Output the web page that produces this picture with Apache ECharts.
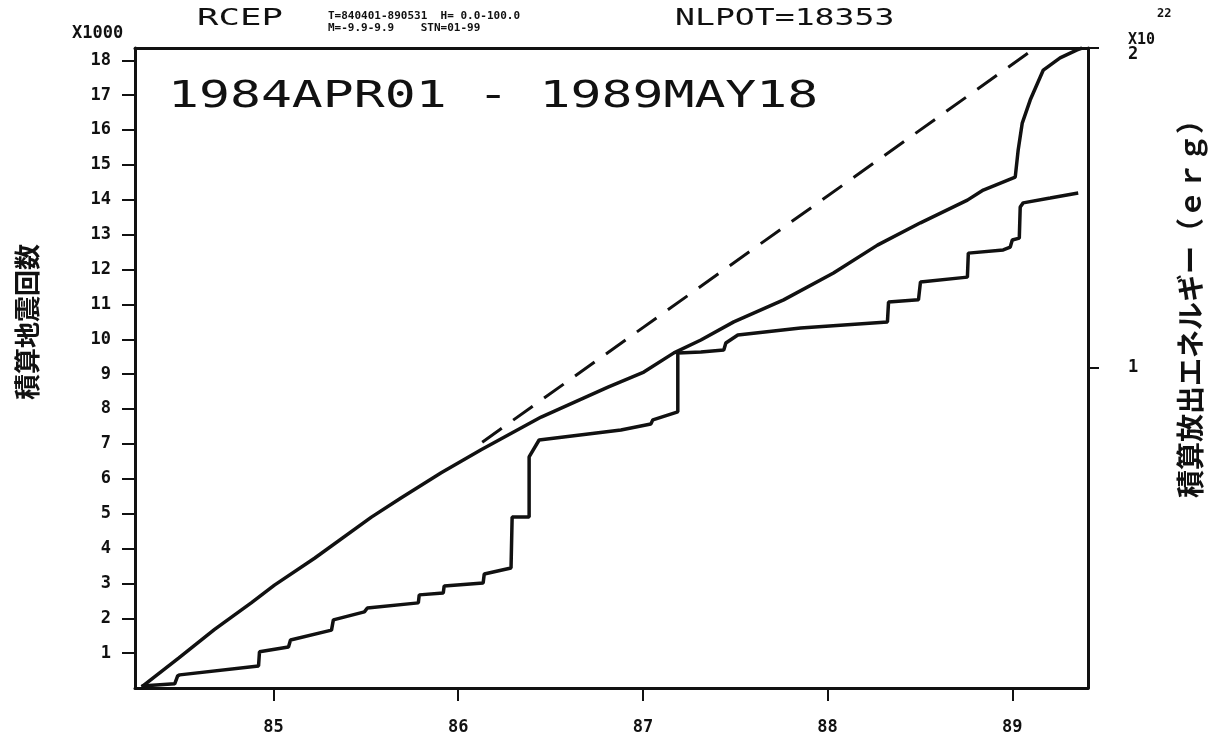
<!DOCTYPE html>
<html>
<head>
<meta charset="utf-8">
<title>RCEP 1984APR01 - 1989MAY18</title>
<script src="https://cdn.jsdelivr.net/npm/echarts/dist/echarts.min.js"></script>
<style>
  html, body { margin: 0; padding: 0; background: #fff; }
  #chart { width: 1214px; height: 749px; }
</style>
</head>
<body>
<div id="chart"></div>
<script>
// x: decimal year (84.25 = 1984 Apr 1)
var yearTicks = [85, 86, 87, 88, 89];
var countTicks = [1, 2, 3, 4, 5, 6, 7, 8, 9, 10, 11, 12, 13, 14, 15, 16, 17, 18];
var energyTicks = [1, 2];

// cumulative number of earthquakes (x1000)
var countYears = [84.286, 84.486, 84.681, 84.881, 85.005, 85.222, 85.53, 85.69, 85.908, 86.124, 86.449,
  86.811, 87.005, 87.168, 87.314, 87.492, 87.762, 88.032, 88.27, 88.503, 88.757, 88.843, 89.016,
  89.032, 89.054, 89.097, 89.168, 89.259, 89.351, 89.378];
var countValues = [0.03, 0.86, 1.68, 2.45, 2.95, 3.72, 4.9, 5.45, 6.17, 6.83, 7.77,
  8.63, 9.06, 9.61, 9.98, 10.5, 11.13, 11.9, 12.7, 13.34, 13.99, 14.28, 14.65,
  15.43, 16.2, 16.86, 17.72, 18.07, 18.3, 18.353];

// cumulative released energy (x10^22 erg)
var energyYears = [84.286, 84.465, 84.481, 84.492, 84.919, 84.924, 85.081, 85.092, 85.314, 85.324,
  85.492, 85.508, 85.784, 85.789, 85.919, 85.924, 86.135, 86.141, 86.286, 86.292, 86.384, 86.384,
  86.438, 86.881, 87.043, 87.054, 87.189, 87.189, 87.314, 87.438, 87.449, 87.514, 87.854, 88.324,
  88.33, 88.492, 88.503, 88.757, 88.762, 88.951, 88.989, 89.0, 89.038, 89.043, 89.059, 89.205, 89.357];
var energyValues = [0.006, 0.013, 0.038, 0.041, 0.069, 0.113, 0.128, 0.15, 0.181, 0.213,
  0.238, 0.25, 0.266, 0.291, 0.297, 0.319, 0.328, 0.356, 0.375, 0.534, 0.534, 0.722,
  0.775, 0.806, 0.825, 0.838, 0.863, 1.047, 1.05, 1.056, 1.078, 1.103, 1.125, 1.144,
  1.206, 1.213, 1.269, 1.284, 1.359, 1.369, 1.378, 1.4, 1.406, 1.503, 1.516, 1.531, 1.547];

// dashed trend line (x1000)
var trendYears = [86.13, 89.124];
var trendValues = [7.05, 18.353];

var NLPOT = 18353;

function pairs(xs, ys) {
  return xs.map(function (x, i) { return [x, ys[i]]; });
}

var ink = '#111';
var mono = '"DejaVu Sans Mono", monospace';
var cjk = '"Noto Sans CJK JP", sans-serif';

var chart = echarts.init(document.getElementById('chart'));

var option = {
  animation: false,
  backgroundColor: '#fff',
  grid: { left: 135, right: 126, top: 48, bottom: 61 },
  xAxis: [
    {
      type: 'value',
      min: 84.25,
      max: 89.41,
      axisLine: { onZero: false, lineStyle: { color: ink, width: 3 } },
      axisTick: { customValues: yearTicks, length: 13, lineStyle: { color: ink, width: 2 } },
      axisLabel: {
        customValues: yearTicks,
        margin: 31,
        color: ink,
        fontFamily: mono,
        fontWeight: 'bold',
        fontSize: 17,
        formatter: function (v) { return String(v); }
      },
      splitLine: { show: false }
    },
    {
      type: 'value',
      position: 'top',
      min: 84.25,
      max: 89.41,
      axisLine: { onZero: false, lineStyle: { color: ink, width: 3 } },
      axisTick: { show: false },
      axisLabel: { show: false },
      splitLine: { show: false }
    }
  ],
  yAxis: [
    {
      type: 'value',
      min: 0,
      max: NLPOT / 1000,
      axisLine: { show: true, onZero: false, lineStyle: { color: ink, width: 3 } },
      axisTick: { customValues: countTicks, length: 13, lineStyle: { color: ink, width: 2 } },
      axisLabel: {
        customValues: countTicks,
        margin: 24,
        color: ink,
        fontFamily: mono,
        fontWeight: 'bold',
        fontSize: 17,
        formatter: function (v) { return String(v); }
      },
      splitLine: { show: false }
    },
    {
      type: 'value',
      position: 'right',
      min: 0,
      max: 2,
      axisLine: { show: true, onZero: false, lineStyle: { color: ink, width: 3 } },
      axisTick: { customValues: energyTicks, length: 11, lineStyle: { color: ink, width: 2 } },
      axisLabel: {
        customValues: energyTicks,
        margin: 40,
        color: ink,
        fontFamily: mono,
        fontWeight: 'bold',
        fontSize: 17,
        formatter: function (v) { return v === 2 ? '{t|2}' : String(v); },
        rich: { t: { padding: [14, 0, 0, 0], fontFamily: mono, fontWeight: 'bold', fontSize: 17, color: ink } }
      },
      splitLine: { show: false }
    }
  ],
  series: [
    {
      name: '積算地震回数',
      type: 'line',
      xAxisIndex: 0,
      yAxisIndex: 0,
      data: pairs(countYears, countValues),
      showSymbol: false,
      lineStyle: { color: ink, width: 3.5 }
    },
    {
      name: '積算放出エネルギー',
      type: 'line',
      xAxisIndex: 0,
      yAxisIndex: 1,
      data: pairs(energyYears, energyValues),
      showSymbol: false,
      lineStyle: { color: ink, width: 3.5 }
    },
    {
      name: 'trend',
      type: 'line',
      xAxisIndex: 0,
      yAxisIndex: 0,
      data: pairs(trendYears, trendValues),
      showSymbol: false,
      lineStyle: { color: ink, width: 3, type: [24, 14] }
    }
  ],
  graphic: [
    { type: 'text', left: 72, top: 25, style: { text: 'X1000', font: 'bold 17px ' + mono, fill: ink } },
    { type: 'text', x: 197, y: 19, scaleX: 1.55, style: { text: 'RCEP', font: '23px ' + mono, fill: ink, verticalAlign: 'middle' } },
    { type: 'text', x: 328, y: 16, style: { text: 'T=840401-890531  H= 0.0-100.0', font: 'bold 11px ' + mono, fill: ink, verticalAlign: 'middle' } },
    { type: 'text', x: 328, y: 28, style: { text: 'M=-9.9-9.9    STN=01-99', font: 'bold 11px ' + mono, fill: ink, verticalAlign: 'middle' } },
    { type: 'text', x: 675, y: 19, scaleX: 1.44, style: { text: 'NLPOT=' + NLPOT, font: '23px ' + mono, fill: ink, verticalAlign: 'middle' } },
    { type: 'text', x: 168, y: 97, scaleX: 1.39, style: { text: '1984APR01 - 1989MAY18', font: '37px ' + mono, fill: ink, verticalAlign: 'middle' } },
    { type: 'text', x: 1128, y: 40, style: { text: 'X10', font: 'bold 15px ' + mono, fill: ink, verticalAlign: 'middle' } },
    { type: 'text', x: 1157, y: 14, style: { text: '22', font: 'bold 12px ' + mono, fill: ink, verticalAlign: 'middle' } },
    { type: 'text', x: 27, y: 322, rotation: Math.PI / 2, style: { text: '積算地震回数', font: 'bold 26px ' + cjk, fill: ink, align: 'center', verticalAlign: 'middle' } },
    { type: 'text', x: 1190, y: 302, rotation: Math.PI / 2, style: { text: '積算放出エネルギー（ｅｒｇ）', font: 'bold 28px ' + cjk, fill: ink, align: 'center', verticalAlign: 'middle' } }
  ]
};

chart.setOption(option);
</script>
</body>
</html>
